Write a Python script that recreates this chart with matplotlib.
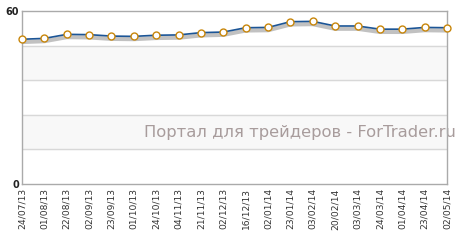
import matplotlib
matplotlib.use('Agg')
import matplotlib.pyplot as plt
import matplotlib.patheffects as pe
import numpy as np

dates = ['24/07/13', '01/08/13', '22/08/13', '02/09/13', '23/09/13', '01/10/13',
         '24/10/13', '04/11/13', '21/11/13', '02/12/13', '16/12/13', '02/01/14',
         '23/01/14', '03/02/14', '20/02/14', '03/03/14', '24/03/14', '01/04/14',
         '23/04/14', '02/05/14']
values = [50.2, 50.5, 51.9, 51.8, 51.3, 51.2, 51.6, 51.7, 52.5, 52.7,
          54.2, 54.3, 56.3, 56.4, 54.8, 54.8, 53.7, 53.7, 54.3, 54.2]

fig = plt.figure(figsize=(4.61, 2.44), dpi=100)
ax = fig.add_axes([22/461, 60/244, 425/461, 173/244])

x = np.arange(len(dates))
ax.set_xlim(0, len(dates) - 1)
ax.set_ylim(0, 60)

# alternating bands and grid
for lo, hi in [(12, 24), (36, 48)]:
    ax.axhspan(lo, hi, color='#f8f8f8', zorder=0)
for g in [12, 24, 36, 48]:
    ax.axhline(g, color='#d8d8d8', lw=1, zorder=1)

ax.plot(x, values, color='#1c5596', lw=1.2, zorder=3,
        path_effects=[pe.SimpleLineShadow(offset=(0, -2), shadow_color='#999999', alpha=0.6, linewidth=3),
                      pe.Normal()])
ax.plot(x, values, 'o', ms=5, mfc='white', mec='#c8860a', mew=1, zorder=4, clip_on=False)

ax.text(1.02, 0.3, 'Портал для трейдеров - ForTrader.ru', transform=ax.transAxes,
        ha='right', va='center', fontsize=11.8, color='#a89c9c', zorder=2)

for s in ax.spines.values():
    s.set_color('#aaaaaa')
    s.set_linewidth(1)

ax.set_yticks([0, 60])
ax.set_yticklabels(['0', '60'], fontsize=7, fontweight='bold', color='#222222')
ax.set_xticks(x)
ax.set_xticklabels(dates, rotation=90, fontsize=6.6, color='#333333')
ax.tick_params(length=0, pad=3)
ax.tick_params(axis='y', pad=2)

fig.savefig('out.png', dpi=100)
